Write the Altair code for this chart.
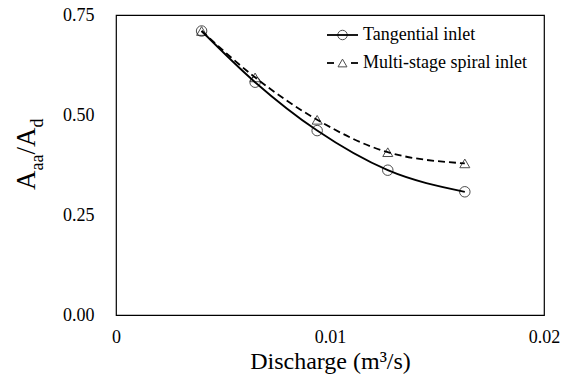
import altair as alt
import pandas as pd

# ---- data ----
discharge = [0.0040, 0.0065, 0.0094, 0.0127, 0.0163]
tangential = [0.710, 0.582, 0.461, 0.362, 0.308]
multistage = [0.710, 0.594, 0.488, 0.407, 0.379]
series_names = ["Tangential inlet", "Multi-stage spiral inlet"]
x_ticks = [0, 0.01, 0.02]
y_ticks = [0.0, 0.25, 0.50, 0.75]

FONT = "Liberation Serif"
W, H = 428, 300

df = pd.DataFrame({
    "q": discharge * 2,
    "r": tangential + multistage,
    "s": [series_names[0]] * len(discharge) + [series_names[1]] * len(discharge),
})

xs = alt.Scale(domain=[0, 0.02], nice=False)
ys = alt.Scale(domain=[0, 0.75], nice=False)

x_enc = alt.X("q:Q", scale=xs, axis=alt.Axis(
    values=x_ticks, title="Discharge (m³/s)", grid=False, domain=False, ticks=False,
    labelExpr="datum.value == 0 ? '0' : format(datum.value, '.2f')",
    labelFont=FONT, labelFontSize=18, labelColor="black", labelPadding=13,
    titleFont=FONT, titleFontSize=24, titleFontWeight="normal", titleColor="black",
    titlePadding=3, labelFlush=False))
y_enc = alt.Y("r:Q", scale=ys, axis=alt.Axis(
    values=y_ticks, title=None, grid=False, domain=False, ticks=False, format=".2f",
    labelFont=FONT, labelFontSize=18, labelColor="black", labelPadding=22,
    labelFlush=False))

base = alt.Chart(df)
tang = base.transform_filter(alt.datum.s == series_names[0])
multi = base.transform_filter(alt.datum.s == series_names[1])

line_t = tang.mark_line(color="black", strokeWidth=1.8, interpolate="monotone").encode(x=x_enc, y=y_enc)
line_m = multi.mark_line(color="black", strokeWidth=1.8, strokeDash=[7, 4], interpolate="monotone").encode(x="q:Q", y="r:Q")
pt_t = tang.mark_point(shape="circle", filled=False, color="black", size=110, strokeWidth=1).encode(x="q:Q", y="r:Q")
pt_m = multi.mark_point(shape="triangle-up", filled=False, color="black", size=100, strokeWidth=1).encode(x="q:Q", y="r:Q")

# ---- legend (inside plot, top right) ----
lx0, lx1, ltx = 211, 242, 247
row_y = [20, 48]
leg_solid = alt.Chart(pd.DataFrame({"a": [0]})).mark_rule(color="black", strokeWidth=1.8).encode(
    x=alt.value(lx0), x2=alt.value(lx1), y=alt.value(row_y[0]))
leg_circle = alt.Chart(pd.DataFrame({"a": [0]})).mark_point(shape="circle", filled=False, color="black", size=90, strokeWidth=1).encode(
    x=alt.value((lx0 + lx1) / 2), y=alt.value(row_y[0]))
leg_d1 = alt.Chart(pd.DataFrame({"a": [0]})).mark_rule(color="black", strokeWidth=1.8).encode(
    x=alt.value(lx0), x2=alt.value(lx0 + 7), y=alt.value(row_y[1]))
leg_d2 = alt.Chart(pd.DataFrame({"a": [0]})).mark_rule(color="black", strokeWidth=1.8).encode(
    x=alt.value(lx1 - 7), x2=alt.value(lx1), y=alt.value(row_y[1]))
leg_tri = alt.Chart(pd.DataFrame({"a": [0]})).mark_point(shape="triangle-up", filled=False, color="black", size=80, strokeWidth=1).encode(
    x=alt.value((lx0 + lx1) / 2), y=alt.value(row_y[1]))
leg_text = alt.Chart(pd.DataFrame({"t": series_names, "yy": row_y})).mark_text(
    font=FONT, fontSize=18, align="left", baseline="middle", color="black").encode(
    x=alt.value(ltx), y=alt.Y("yy:Q", scale=None), text="t:N")

# ---- y title A_aa / A_d with subscripts ----
main_fs, sub_fs = 27, 18
main_x, sub_x = -81.5, -73.5
pieces = [("A", main_fs, main_x, 0.722), ("aa", sub_fs, sub_x, 0.888),
          ("/", main_fs, main_x, 0.278), ("A", main_fs, main_x, 0.722),
          ("d", sub_fs, sub_x, 0.5)]
ytitle_layers = []
ypos = 175.0
for txt, fs, xx, wem in pieces:
    ytitle_layers.append(
        alt.Chart(pd.DataFrame({"t": [txt]})).mark_text(
            font=FONT, fontSize=fs, angle=270, align="left", baseline="alphabetic", color="black"
        ).encode(x=alt.value(xx), y=alt.value(ypos), text="t:N"))
    ypos -= fs * wem

chart = alt.layer(line_t, line_m, pt_t, pt_m, leg_solid, leg_circle, leg_d1, leg_d2, leg_tri, leg_text,
                  *ytitle_layers).properties(
    width=W, height=H,
    autosize=alt.AutoSizeParams(type="none"),
    padding={"left": 116, "top": 15, "right": 568 - 116 - W, "bottom": 386 - 15 - H},
    background="white",
).configure_view(stroke="black", strokeWidth=1.2)

chart.save("out.html", embed_options={"renderer": "svg", "actions": False})
